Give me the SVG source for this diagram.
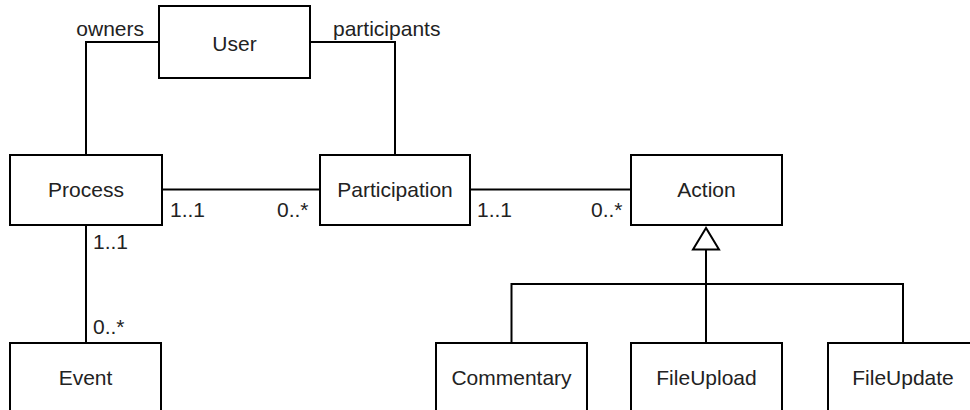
<svg xmlns="http://www.w3.org/2000/svg" width="970" height="410" viewBox="0 0 970 410">
<style>
.box{fill:#fff;stroke:#000;stroke-width:2}
.ln{fill:none;stroke:#000;stroke-width:2}
.t{font-family:"Liberation Sans",Arial,sans-serif;font-size:21px;fill:#222}
.c{text-anchor:middle}
</style>
<rect width="970" height="410" fill="#fff"/>
<g id="connectors">
<polyline class="ln" points="159,42 86,42 86,155"/>
<polyline class="ln" points="310,42 395,42 395,155"/>
<line class="ln" x1="162" y1="189.5" x2="320" y2="189.5"/>
<line class="ln" x1="470" y1="189.5" x2="631" y2="189.5"/>
<line class="ln" x1="86" y1="225" x2="86" y2="343"/>
<polygon class="ln" points="706,228 693,249.5 719,249.5" fill="#fff"/>
<line class="ln" x1="706" y1="249.5" x2="706" y2="343"/>
<polyline class="ln" points="511.5,343 511.5,284 903,284 903,343"/>
<text class="t" x="144" y="36" text-anchor="end">owners</text>
<text class="t" x="333" y="36">participants</text>
<text class="t" x="170" y="217">1..1</text>
<text class="t" x="277" y="217">0..*</text>
<text class="t" x="477" y="217">1..1</text>
<text class="t" x="591" y="217">0..*</text>
<text class="t" x="93" y="249">1..1</text>
<text class="t" x="93" y="334">0..*</text>
</g>
<g id="user"><rect class="box" x="159" y="6" width="151" height="72"/><text class="t c" x="234.5" y="50.5">User</text></g>
<g id="process"><rect class="box" x="10" y="155" width="152" height="70"/><text class="t c" x="86" y="197">Process</text></g>
<g id="participation"><rect class="box" x="320" y="155" width="150" height="70"/><text class="t c" x="395" y="197">Participation</text></g>
<g id="action"><rect class="box" x="631" y="155" width="151" height="70"/><text class="t c" x="706.5" y="197">Action</text></g>
<g id="event"><rect class="box" x="10" y="343" width="151" height="80"/><text class="t c" x="85.5" y="385">Event</text></g>
<g id="commentary"><rect class="box" x="436" y="343" width="151" height="80"/><text class="t c" x="511.5" y="385">Commentary</text></g>
<g id="fileupload"><rect class="box" x="631" y="343" width="151" height="80"/><text class="t c" x="706.5" y="385">FileUpload</text></g>
<g id="fileupdate"><rect class="box" x="828" y="343" width="151" height="80"/><text class="t c" x="903" y="385">FileUpdate</text></g>
</svg>
